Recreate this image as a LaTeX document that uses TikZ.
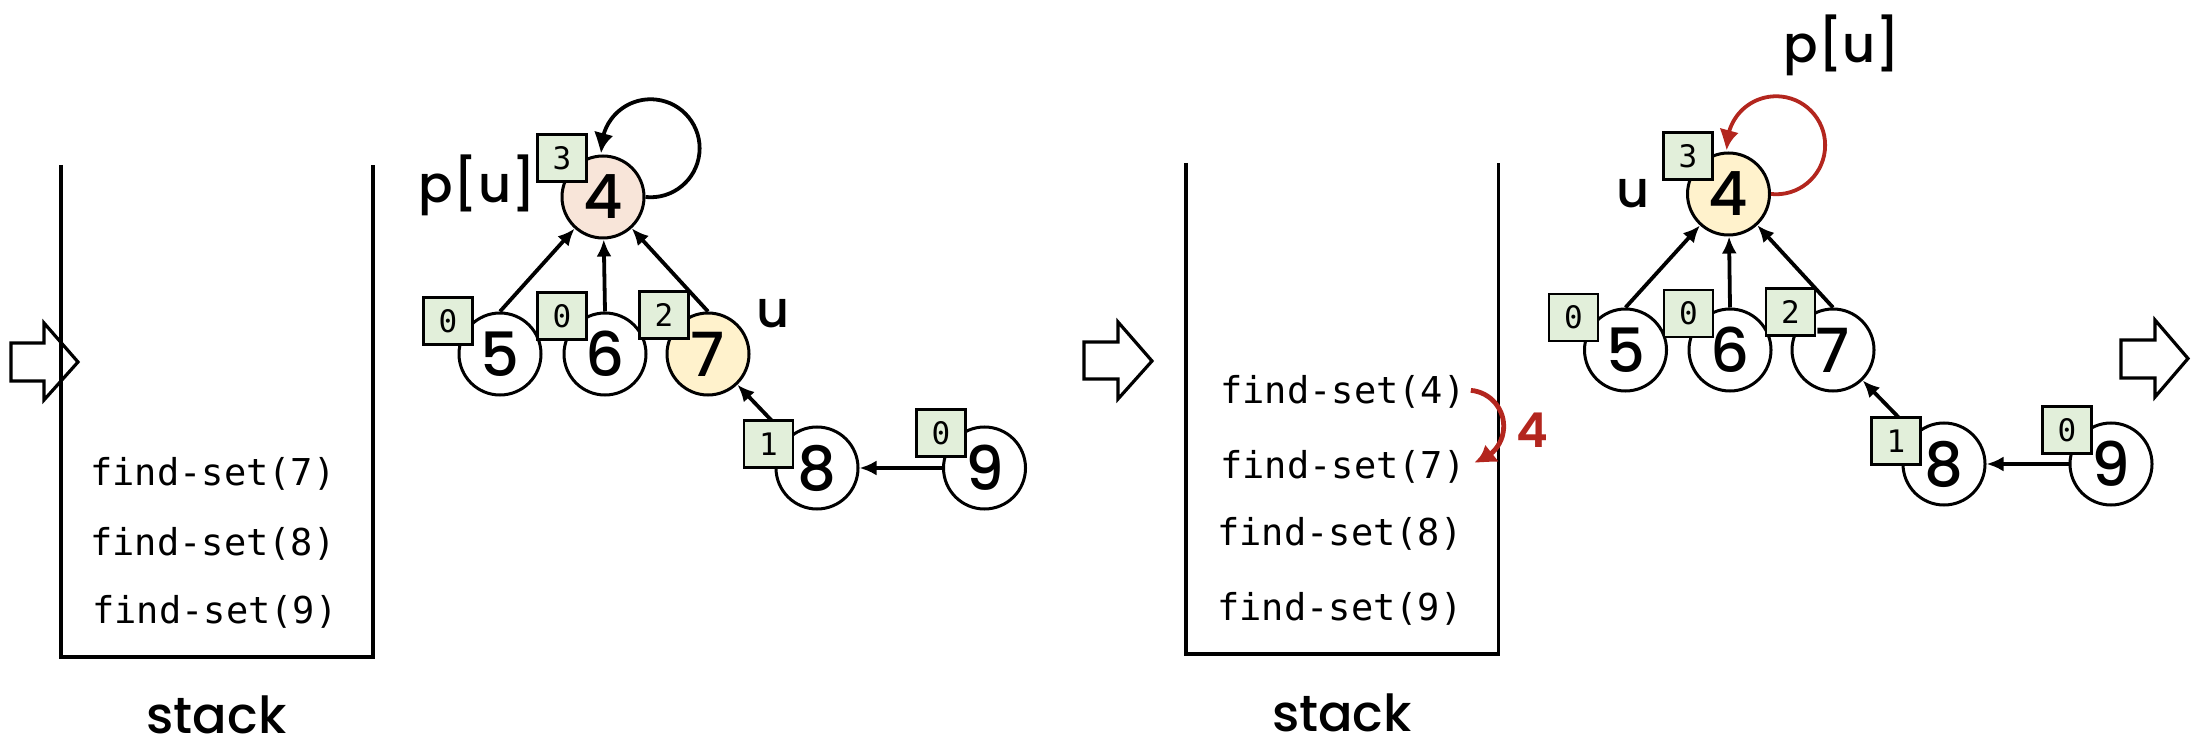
\documentclass[tikz,border=0pt]{standalone}
\usepackage{fontspec}
\usetikzlibrary{arrows.meta,bending}
\newfontfamily\poppins{Poppins Medium}
\newfontfamily\poppinsb{Poppins SemiBold}
\newfontfamily\dvmono{DejaVu Sans Mono}
\newcommand\numfnt{\poppins\fontsize{30.5}{36}\selectfont}
\newcommand\lblfnt{\poppins\fontsize{25.5}{30}\selectfont}
\newcommand\codefnt{\dvmono\fontsize{18.5}{22}\selectfont}
\newcommand\rankfnt{\dvmono\fontsize{15.5}{18}\selectfont}
\newcommand\redfnt{\poppinsb\fontsize{24}{28}\selectfont}
\definecolor{boxgreen}{HTML}{E2EFDA}
\definecolor{peachfill}{HTML}{F8E5D9}
\definecolor{yellowfill}{HTML}{FFF2CC}
\definecolor{redc}{HTML}{B3261E}
\tikzset{
  vtx/.style={circle, draw, fill=white, line width=1.5pt, minimum size=41pt, inner sep=0pt, font=\numfnt},
  rankbox/.style={draw, line width=1.4pt, fill=boxgreen, minimum width=24.5pt, minimum height=23.5pt, inner sep=0pt, font=\rankfnt},
  edge/.style={line width=1.9pt, -{Latex[length=8.5pt,width=7.5pt]}},
  loopedge/.style={line width=1.9pt, -{Latex[length=10pt,width=10pt,bend]}},
  redloop/.style={loopedge, draw=redc, color=redc},
  redarrow/.style={line width=2.4pt, draw=redc, -{Latex[length=10pt,width=11pt,bend]}, color=redc},
  stackline/.style={line width=1.6pt, line join=miter},
  calltext/.style={anchor=base west, inner sep=0pt, font=\codefnt},
  lbl/.style={anchor=base, inner sep=0pt, font=\lblfnt},
  blockarrow/.style={line width=1.6pt, line join=miter},
}
\begin{document}
\begin{tikzpicture}[x=0.5pt,y=0.5pt]
\useasboundingbox (0,0) rectangle (2210,-748);

% ---------- block arrows ----------
\draw[blockarrow] (11,-343) -- (44,-343) -- (44,-323) -- (78,-362) -- (44,-400) -- (44,-381) -- (11,-381) -- cycle;
\draw[blockarrow] (1084,-342) -- (1118,-342) -- (1118,-322) -- (1152,-361) -- (1118,-399) -- (1118,-379) -- (1084,-379) -- cycle;
\draw[blockarrow] (2121,-340) -- (2155,-340) -- (2155,-320) -- (2188,-358.5) -- (2155,-397) -- (2155,-378) -- (2121,-378) -- cycle;

% ---------- panel 1 : stack ----------
\draw[stackline] (61,-165) -- (61,-657) -- (373,-657) -- (373,-165);
\node[calltext] (s7) at (90,-485) {find-set(7)};
\node[calltext] (s8) at (90,-555) {find-set(8)};
\node[calltext] (s9) at (92,-623) {find-set(9)};
\node[lbl] (stk1) at (216.5,-733) {stack};

% ---------- panel 1 : forest ----------
\node[vtx, fill=peachfill] (a4) at (603,-197) {4};
\node[vtx] (a5) at (500,-354) {5};
\node[vtx] (a6) at (605,-354) {6};
\node[vtx, fill=yellowfill] (a7) at (708,-354) {7};
\node[vtx] (a8) at (817,-468) {8};
\node[vtx] (a9) at (984.5,-468) {9};

\draw[edge] (a5.north) -- (a4);
\draw[edge] (a6.north) -- (a4);
\draw[edge] (a7.north) -- (a4);
\draw[edge] (a8) -- (a7);
\draw[edge] (a9) -- (a8);
\draw[loopedge] (a4.east) arc[start angle=-96, end angle=186, radius=24.5pt];

\node[rankbox] (ra4) at (562,-158) {3};
\node[rankbox] (ra5) at (448,-321) {0};
\node[rankbox] (ra6) at (562,-316) {0};
\node[rankbox] (ra7) at (664,-315) {2};
\node[rankbox] (ra8) at (768.5,-444) {1};
\node[rankbox] (ra9) at (941,-433) {0};

\node[lbl] (pu1) at (477.5,-203) {p[u]};
\node[lbl] (u1) at (773,-328) {u};

% ---------- panel 2 : stack ----------
\draw[stackline] (1186,-163) -- (1186,-654) -- (1498.5,-654) -- (1498.5,-163);
\node[calltext] (c4) at (1220,-404) {find-set(4)};
\node[calltext] (c7) at (1220,-478) {find-set(7)};
\node[calltext] (c8) at (1217,-545) {find-set(8)};
\node[calltext] (c9) at (1217,-620) {find-set(9)};
\node[lbl] (stk2) at (1342,-731) {stack};
\draw[redarrow] ([xshift=2.5pt,yshift=1pt]c4.east) arc[start angle=85, end angle=-80, radius=18pt];
\node[font=\redfnt, text=redc, inner sep=0pt] (ret) at (1532,-430) {4};

% ---------- panel 2 : forest ----------
\node[vtx, fill=yellowfill] (b4) at (1728.5,-194) {4};
\node[vtx] (b5) at (1625.5,-350) {5};
\node[vtx] (b6) at (1730,-350) {6};
\node[vtx] (b7) at (1833,-350) {7};
\node[vtx] (b8) at (1944,-464) {8};
\node[vtx] (b9) at (2111,-464) {9};

\draw[edge] (b5.north) -- (b4);
\draw[edge] (b6.north) -- (b4);
\draw[edge] (b7.north) -- (b4);
\draw[edge] (b8) -- (b7);
\draw[edge] (b9) -- (b8);
\draw[redloop] (b4.east) arc[start angle=-96, end angle=186, radius=24.5pt];

\node[rankbox] (rb4) at (1688,-156) {3};
\node[rankbox] (rb5) at (1573.5,-317.5) {0};
\node[rankbox] (rb6) at (1688.5,-313.5) {0};
\node[rankbox] (rb7) at (1790.5,-312) {2};
\node[rankbox] (rb8) at (1896,-441) {1};
\node[rankbox] (rb9) at (2067,-430) {0};

\node[lbl] (u2) at (1633,-208) {u};
\node[lbl] (pu2) at (1842,-63) {p[u]};
\end{tikzpicture}
\end{document}
